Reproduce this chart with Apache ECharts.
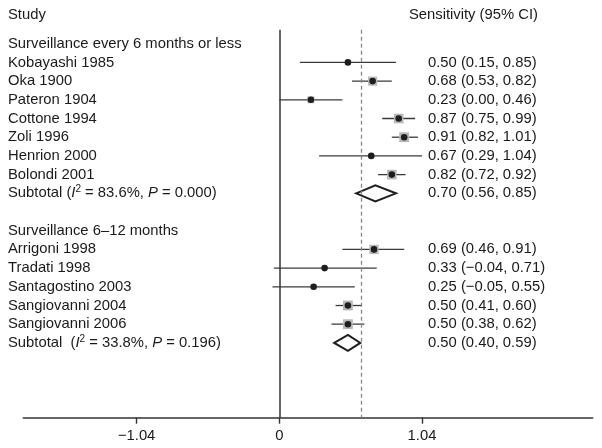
<!DOCTYPE html>
<html>
<head>
<meta charset="utf-8">
<script src="https://cdn.jsdelivr.net/npm/echarts@6/dist/echarts.min.js"></script>
<style>html,body{margin:0;padding:0;background:#fff}#c{width:602px;height:448px}</style>
</head>
<body>
<div id="c"></div>
<script>
// ---- data ----
const groupTitles = ['Surveillance every 6 months or less', 'Surveillance 6\u201312 months'];
const studies1 = ['Kobayashi 1985','Oka 1900','Pateron 1904','Cottone 1994','Zoli 1996','Henrion 2000','Bolondi 2001'];
const est1 = [0.50, 0.68, 0.23, 0.87, 0.91, 0.67, 0.82];
const lo1  = [0.15, 0.53, 0.00, 0.75, 0.82, 0.29, 0.72];
const hi1  = [0.85, 0.82, 0.46, 0.99, 1.01, 1.04, 0.92];
const wt1  = [5, 17, 10, 19, 20, 4, 19];
const sub1 = [0.70, 0.56, 0.85];
const het1 = ['83.6%', '0.000'];

const studies2 = ['Arrigoni 1998','Tradati 1998','Santagostino 2003','Sangiovanni 2004','Sangiovanni 2006'];
const est2 = [0.69, 0.33, 0.25, 0.50, 0.50];
const lo2  = [0.46, -0.04, -0.05, 0.41, 0.38];
const hi2  = [0.91, 0.71, 0.55, 0.60, 0.62];
const wt2  = [18, 5, 6, 20, 20];
const sub2 = [0.50, 0.40, 0.59];
const het2 = ['33.8%', '0.196'];

const overall = 0.60;
const tickValues = [-1.04, 0, 1.04];

// ---- build rows ----
const fmt = v => (v < 0 ? '\u2212' + Math.abs(v).toFixed(2) : v.toFixed(2));
const ciText = (e, l, h) => fmt(e) + ' (' + fmt(l) + ', ' + fmt(h) + ')';
const bars = [], diamonds = [], texts = [];
let row = 0;
function addGroup(title, names, est, lo, hi, wt, sub, het, sep) {
  texts.push([row, title, '']); row++;
  names.forEach((n, i) => {
    bars.push([row, lo[i], hi[i], est[i], wt[i]]);
    texts.push([row, n, ciText(est[i], lo[i], hi[i])]);
    row++;
  });
  diamonds.push([row, sub[1], sub[0], sub[2]]);
  texts.push([row, '{n|Subtotal' + sep + '(}{i|I}{s|2}{n| = ' + het[0] + ', }{i|P}{n| = ' + het[1] + ')}', ciText(sub[0], sub[1], sub[2])]);
  row++;
}
addGroup(groupTitles[0], studies1, est1, lo1, hi1, wt1, sub1, het1, ' ');
row++;
addGroup(groupTitles[1], studies2, est2, lo2, hi2, wt2, sub2, het2, '  ');

const FONT = '"Liberation Sans", Arial, Helvetica, sans-serif';
const FS = 14.8;
const TXT = '#1a1a1a';
const rich = {
  n: {fontSize: FS, fontFamily: FONT, fill: TXT, lineHeight: 18},
  i: {fontSize: FS, fontFamily: FONT, fontStyle: 'italic', fill: TXT, lineHeight: 18},
  s: {fontSize: 10, fontFamily: FONT, fill: TXT, verticalAlign: 'top', lineHeight: 18}
};

const chart = echarts.init(document.getElementById('c'), null, {renderer: 'canvas'});
chart.setOption({
  animation: false,
  backgroundColor: '#fff',
  grid: {left: 23.3, right: 9.3, top: 29.7, bottom: 30.3, containLabel: false},
  xAxis: {
    type: 'value', min: -1.866, max: 2.284,
    splitLine: {show: false},
    axisLine: {onZero: false, lineStyle: {color: '#333', width: 1.6}},
    axisTick: {show: true, customValues: tickValues, length: 6, lineStyle: {color: '#333', width: 1.4}},
    axisLabel: {customValues: tickValues, color: TXT, fontSize: FS, fontFamily: FONT, margin: 11,
      formatter: v => (v < 0 ? '\u2212' + Math.abs(v).toFixed(2) : (v === 0 ? '0' : v.toFixed(2)))}
  },
  yAxis: {type: 'value', inverse: true, min: -0.75, max: 20, show: false},
  graphic: [
    {type: 'text', left: 8, top: 7, style: {text: 'Study', font: FS + 'px ' + FONT, fill: TXT}},
    {type: 'text', right: 64, top: 7, style: {text: 'Sensitivity (95% CI)', font: FS + 'px ' + FONT, fill: TXT, textAlign: 'right'}}
  ],
  series: [
    {
      type: 'custom', name: 'studies', clip: false, data: bars,
      encode: {x: [1, 2, 3], y: 0},
      renderItem: (params, api) => {
        const r = api.value(0);
        const a = api.coord([api.value(1), r]);
        const b = api.coord([api.value(2), r]);
        const c = api.coord([api.value(3), r]);
        const side = 2.2 * Math.sqrt(api.value(4));
        return {type: 'group', children: [
          {type: 'line', shape: {x1: a[0], y1: a[1], x2: b[0], y2: b[1]}, style: {stroke: '#3a3a3a', lineWidth: 1.3}},
          {type: 'rect', shape: {x: c[0] - side / 2, y: c[1] - side / 2, width: side, height: side}, style: {fill: '#b8b8b8'}},
          {type: 'circle', shape: {cx: c[0], cy: c[1], r: 3.3}, style: {fill: '#1e1e1e'}}
        ]};
      },
      markLine: {
        silent: true, symbol: 'none', label: {show: false}, animation: false,
        data: [
          {xAxis: 0, lineStyle: {color: '#333', width: 1.5, type: 'solid'}},
          {xAxis: overall, lineStyle: {color: '#888', width: 1.3, type: [4, 3]}}
        ]
      }
    },
    {
      type: 'custom', name: 'subtotals', clip: false, data: diamonds,
      encode: {x: [1, 2, 3], y: 0},
      renderItem: (params, api) => {
        const r = api.value(0);
        const l = api.coord([api.value(1), r]);
        const m = api.coord([api.value(2), r]);
        const h = api.coord([api.value(3), r]);
        const hh = 8;
        return {type: 'polygon', shape: {points: [[l[0], l[1]], [m[0], m[1] - hh], [h[0], h[1]], [m[0], m[1] + hh]]},
          style: {fill: '#fff', stroke: '#1e1e1e', lineWidth: 2}};
      }
    },
    {
      type: 'custom', name: 'labels', clip: false, silent: true, data: texts,
      encode: {y: 0},
      renderItem: (params, api) => {
        const item = texts[params.dataIndex];
        const p = api.coord([0, item[0]]);
        const kids = [];
        const isRich = item[1].indexOf('{n|') === 0;
        kids.push({type: 'text', x: 8, y: p[1], style: isRich ?
          {text: item[1], rich: rich, verticalAlign: 'middle', textAlign: 'left'} :
          {text: item[1], font: FS + 'px ' + FONT, fill: TXT, verticalAlign: 'middle', textAlign: 'left'}});
        if (item[2]) {
          kids.push({type: 'text', x: 428, y: p[1], style: {text: item[2], font: FS + 'px ' + FONT, fill: TXT, verticalAlign: 'middle', textAlign: 'left'}});
        }
        return {type: 'group', children: kids};
      }
    }
  ]
});
</script>
</body>
</html>
